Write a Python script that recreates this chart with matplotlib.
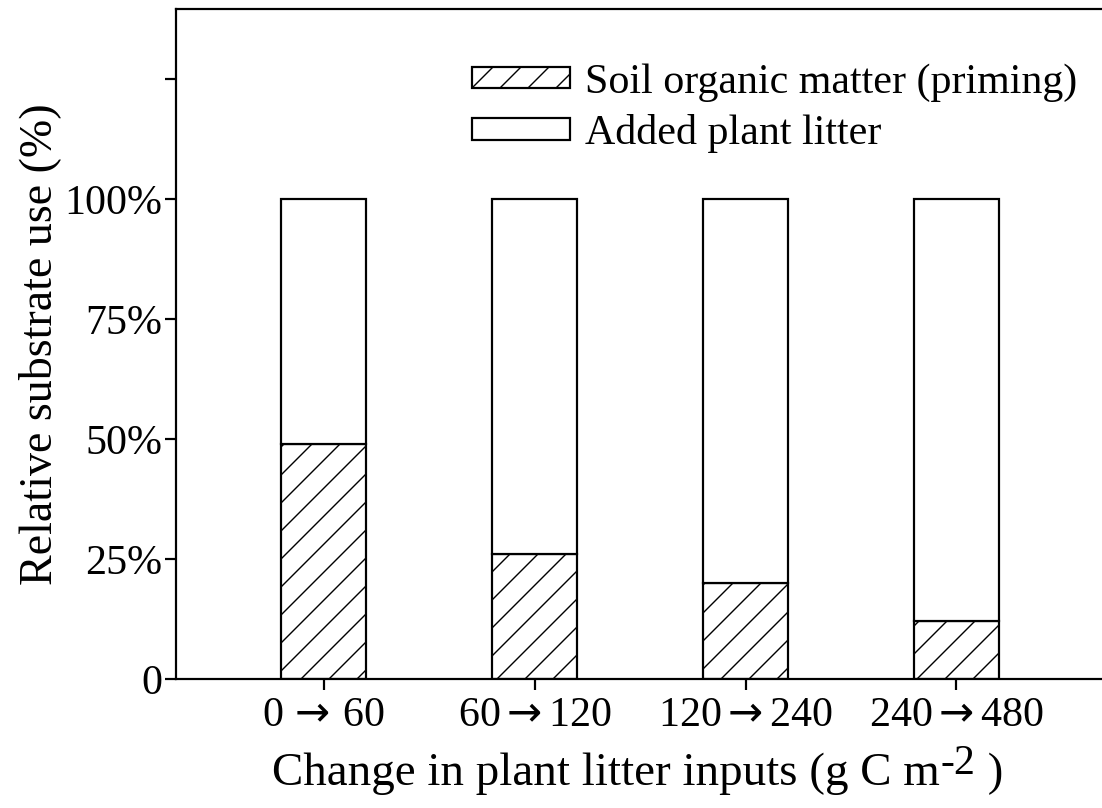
import numpy as np
import matplotlib.pyplot as plt

# data
groups = ["0$\\,\\mathsf{\\rightarrow}\\,$60", "60$\\mathsf{\\rightarrow}$120",
          "120$\\mathsf{\\rightarrow}$240", "240$\\mathsf{\\rightarrow}$480"]
priming = [49, 26, 20, 12]          # soil organic matter share (%)
litter = [100 - p for p in priming]  # added plant litter share (%)
yticks = [0, 25, 50, 75, 100, 125]
ytick_labels = ["0", "25%", "50%", "75%", "100%", ""]

DPI = 168  # hatch spacing depends on dpi


def px(v):
    return v * 72.0 / DPI


plt.rcParams["font.family"] = ["Liberation Serif", "DejaVu Serif"]
plt.rcParams["mathtext.fontset"] = "custom"
plt.rcParams["mathtext.rm"] = "Liberation Serif"
plt.rcParams["mathtext.it"] = "Liberation Serif"
plt.rcParams["mathtext.sf"] = "DejaVu Sans"
plt.rcParams["hatch.linewidth"] = px(1.4)
plt.rcParams["hatch.color"] = "black"

fig = plt.figure(figsize=(1102 / DPI, 808 / DPI), dpi=DPI)
ax = fig.add_axes([176 / 1102, 1 - 679 / 808, 1 - 176 / 1102, (679 - 9) / 808])

x = np.arange(len(groups))
w = 0.4
lw = px(2.2)
ax.bar(x, priming, w, color="white", edgecolor="black", hatch="//", linewidth=lw,
       label="Soil organic matter (priming)")
ax.bar(x, litter, w, bottom=priming, color="white", edgecolor="black", linewidth=lw,
       label="Added plant litter")

ax.set_xlim(-0.70, 3.69)
ax.set_ylim(0, 139.6)
ax.set_xticks(x)
ax.set_xticklabels(groups, fontsize=px(42))
ax.set_yticks(yticks)
ax.set_yticklabels(ytick_labels, fontsize=px(42))
ax.tick_params(axis="both", direction="out", length=px(11), width=lw)
ax.tick_params(axis="y", pad=px(3))
ax.tick_params(axis="x", pad=px(6))

ax.spines["right"].set_visible(False)
for s in ["left", "top", "bottom"]:
    ax.spines[s].set_linewidth(lw)

ax.set_ylabel("Relative substrate use (%)", fontsize=px(46), labelpad=px(3))

# x label with a large raised exponent, built from three pieces
t1 = fig.text(272 / 1102, 1 - 785 / 808, "Change in plant litter inputs (g C m",
              fontsize=px(47), ha="left", va="baseline")
t2 = ax.annotate("-2", xy=(1, 0), xycoords=t1, xytext=(px(1), px(12)),
                 textcoords="offset points", fontsize=px(42), ha="left", va="bottom")
ax.annotate(" )", xy=(1, 0), xycoords=t2, xytext=(0, px(-12)),
            textcoords="offset points", fontsize=px(47), ha="left", va="bottom")

ax.legend(loc="upper left", bbox_to_anchor=(472 / 1102, 1 - 63 / 808),
          bbox_transform=fig.transFigure, frameon=False, fontsize=px(42),
          handlelength=2.33, handleheight=0.42, handletextpad=0.36,
          labelspacing=0.3, borderpad=0, borderaxespad=0)

fig.savefig("out.png", dpi=DPI)
